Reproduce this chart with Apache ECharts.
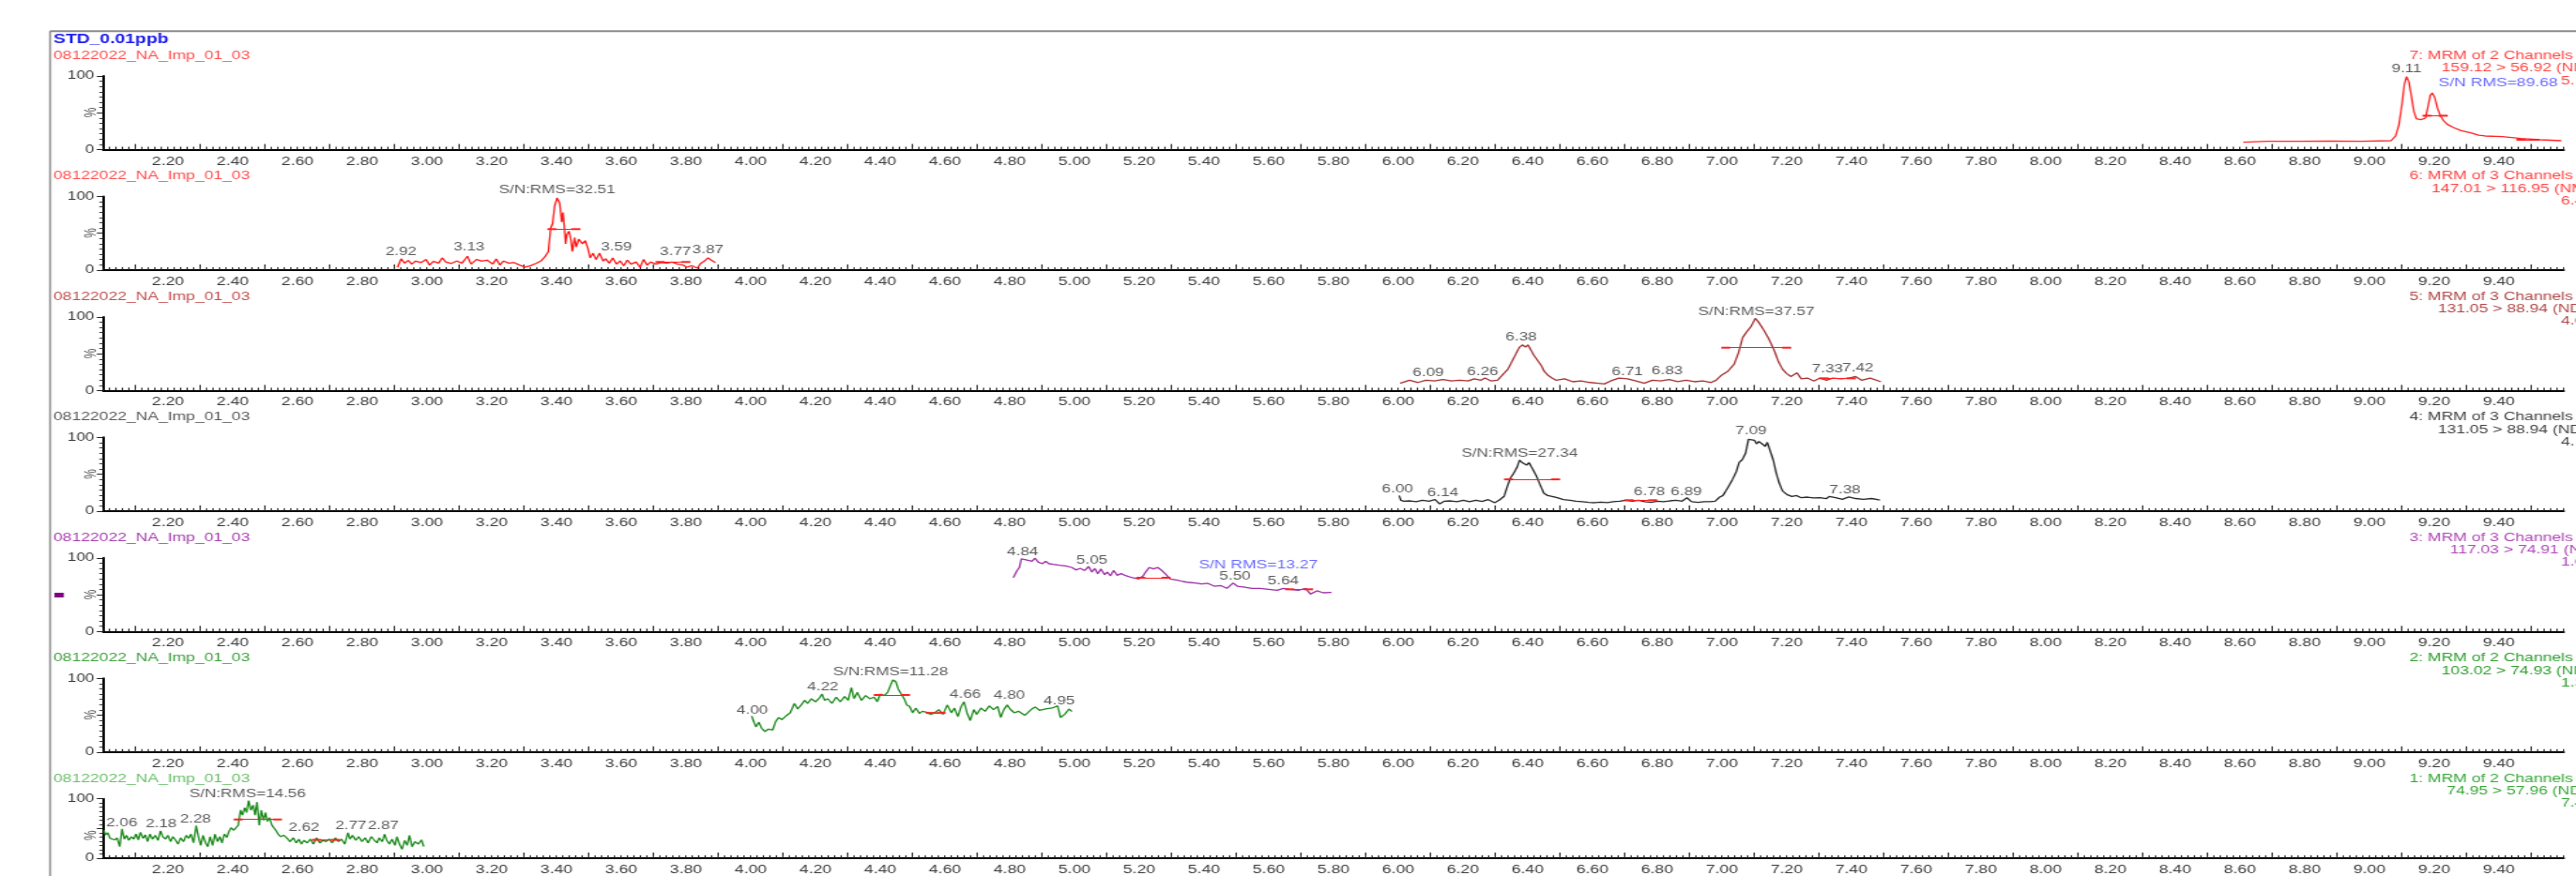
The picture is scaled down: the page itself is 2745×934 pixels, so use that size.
<!DOCTYPE html>
<html>
<head>
<meta charset="utf-8">
<script src="https://cdn.jsdelivr.net/npm/echarts@6/dist/echarts.min.js"></script>
<style>
    html, body { margin: 0; padding: 0; background: #fff; overflow: hidden; }
    #chart { position: absolute; left: 0; top: 0; height: 934px; transform-origin: 0 0; }
</style>
</head>
<body>
<div id="chart"></div>
<script>
    // ---- data: [retention time (min), intensity %] ----
    const ch7 = [[8.610,10],[8.685,11.3],[8.782,11.3],[8.878,11.7],[8.975,11.3],[9.067,12.1],[9.081,18.5],[9.091,33.3],[9.101,63.1],[9.108,88.5],[9.115,99.2],[9.122,91.9],[9.130,71.5],[9.137,52.4],[9.145,41.8],[9.159,40.6],[9.173,42.7],[9.181,58.8],[9.188,73.7],[9.194,77.1],[9.202,70.7],[9.210,56.7],[9.219,46.1],[9.228,39.7],[9.241,34.2],[9.260,29.9],[9.284,25.7],[9.313,22.7],[9.337,19.7],[9.345,21.4],[9.357,18.5],[9.410,17.6],[9.468,15.1],[9.526,13.4],[9.593,12.1]];
    const ch6 = [[2.909,3.8],[2.920,15.3],[2.931,9.3],[2.942,13.2],[2.953,8.1],[2.964,12.3],[2.981,10.2],[2.997,14.4],[3.008,6.8],[3.020,11.9],[3.036,9.3],[3.047,16.6],[3.058,11.0],[3.075,8.9],[3.092,12.3],[3.108,9.3],[3.125,18.7],[3.136,8.1],[3.153,14.4],[3.169,12.3],[3.186,13.6],[3.203,8.1],[3.214,15.3],[3.225,6.8],[3.236,12.3],[3.253,9.3],[3.269,10.2],[3.286,6.8],[3.303,3.8],[3.319,5.9],[3.336,8.9],[3.352,12.3],[3.364,17.8],[3.375,25.1],[3.382,56.9],[3.388,63.3],[3.394,86.6],[3.402,98.1],[3.410,90.9],[3.416,65.4],[3.420,78.1],[3.425,54.8],[3.428,35.7],[3.432,48.4],[3.439,52.7],[3.445,39.9],[3.449,25.1],[3.456,44.2],[3.461,31.4],[3.469,42.0],[3.480,35.7],[3.489,39.9],[3.497,29.3],[3.504,16.6],[3.513,22.9],[3.522,14.4],[3.533,22.9],[3.544,12.3],[3.552,15.3],[3.563,9.3],[3.574,16.6],[3.585,8.1],[3.597,12.3],[3.608,5.9],[3.619,13.6],[3.630,8.1],[3.646,11.0],[3.658,3.8],[3.669,14.4],[3.680,6.8],[3.691,11.0],[3.707,8.1],[3.724,10.2],[3.741,9.3],[3.757,11.0],[3.774,8.1],[3.791,6.8],[3.802,3.8],[3.818,5.9],[3.835,2.5],[3.846,9.3],[3.857,12.3],[3.868,16.6],[3.879,13.2],[3.891,10.2]];
    const ch5 = [[6.006,10],[6.035,14],[6.061,11],[6.086,14],[6.112,13],[6.138,15],[6.164,13],[6.190,14],[6.216,13],[6.235,16],[6.255,14],[6.268,17],[6.287,13],[6.307,14],[6.326,23],[6.339,29],[6.352,40],[6.365,51],[6.375,59],[6.384,62],[6.393,59],[6.401,62],[6.410,55],[6.419,48],[6.429,42],[6.442,34],[6.451,26],[6.462,21],[6.475,17],[6.488,14],[6.514,16],[6.539,12],[6.565,13],[6.591,11],[6.617,10],[6.637,9],[6.656,13],[6.682,17],[6.708,16],[6.734,13],[6.760,10],[6.785,14],[6.811,13],[6.837,15],[6.863,12],[6.889,14],[6.915,12],[6.941,13],[6.967,11],[6.982,14],[6.999,21],[7.018,26],[7.038,36],[7.051,51],[7.064,72],[7.077,80],[7.090,87],[7.103,98],[7.113,93],[7.122,87],[7.132,80],[7.145,70],[7.161,55],[7.174,40],[7.187,29],[7.200,23],[7.213,19],[7.232,24],[7.245,16],[7.264,17],[7.284,13],[7.303,17],[7.323,14],[7.342,17],[7.368,16],[7.394,17],[7.413,19],[7.432,14],[7.458,17],[7.491,12]];
    const ch4 = [[6.003,21],[6.008,14.7],[6.017,13.4],[6.037,13.8],[6.056,12.6],[6.075,14.7],[6.095,13.4],[6.114,15.5],[6.128,9.6],[6.143,13.4],[6.162,13.8],[6.182,12.6],[6.201,14.7],[6.220,12.6],[6.240,14.7],[6.259,13.0],[6.278,15.5],[6.298,11.3],[6.312,14.7],[6.327,19.8],[6.336,31.7],[6.346,44.4],[6.356,50.8],[6.367,59.3],[6.375,69.1],[6.383,65.8],[6.390,66.6],[6.397,62.3],[6.404,65.8],[6.412,63.6],[6.418,55.0],[6.428,46.5],[6.438,35.9],[6.450,24.0],[6.462,21.0],[6.476,19.8],[6.491,18.0],[6.510,15.5],[6.530,14.7],[6.549,13.4],[6.568,12.6],[6.588,11.7],[6.607,11.3],[6.626,12.1],[6.646,11.3],[6.665,12.6],[6.684,13.4],[6.704,14.7],[6.723,13.4],[6.742,14.7],[6.761,12.6],[6.781,11.7],[6.800,13.4],[6.819,12.6],[6.839,13.8],[6.858,14.7],[6.877,13.4],[6.892,18.0],[6.906,12.6],[6.926,11.7],[6.945,12.6],[6.964,12.6],[6.979,13.4],[6.993,18.9],[7.003,21.0],[7.018,31.7],[7.032,42.3],[7.044,52.9],[7.053,65.8],[7.063,69.9],[7.073,78.4],[7.082,97.5],[7.090,95.4],[7.100,96.2],[7.107,91.2],[7.114,94.4],[7.124,91.2],[7.134,87.7],[7.140,93.4],[7.148,82.9],[7.158,69.9],[7.167,52.9],[7.177,38.0],[7.187,27.4],[7.201,22.3],[7.216,19.8],[7.230,21.0],[7.245,18.0],[7.264,18.9],[7.283,17.7],[7.303,18.0],[7.322,16.8],[7.332,19.8],[7.351,18.0],[7.372,16],[7.392,19],[7.413,17],[7.437,16],[7.462,17],[7.488,15]];
    const ch3 = [[4.811,73],[4.823,82.8],[4.830,87],[4.836,98.5],[4.847,97.6],[4.856,96.8],[4.869,95.5],[4.878,99.7],[4.888,94.2],[4.901,92.1],[4.911,95.5],[4.921,92.1],[4.933,91.3],[4.953,90],[4.972,89.1],[4.992,87],[5.005,83.6],[5.018,85.7],[5.031,82.8],[5.044,88.3],[5.054,80.6],[5.063,85.7],[5.072,78.5],[5.082,84.9],[5.093,77.2],[5.102,80.6],[5.111,75.6],[5.121,82.8],[5.132,76.4],[5.144,78.5],[5.160,75.6],[5.179,73],[5.199,71.3],[5.212,75.6],[5.221,81.5],[5.231,87],[5.244,84.9],[5.257,87],[5.270,82.8],[5.283,77.2],[5.296,71.3],[5.315,70],[5.335,67.9],[5.354,66.6],[5.374,65.8],[5.393,64.5],[5.412,65.4],[5.432,61.5],[5.451,62.4],[5.471,58.6],[5.490,65.8],[5.503,61.5],[5.522,60.3],[5.548,58.6],[5.574,58.6],[5.600,57.3],[5.626,56],[5.645,58.6],[5.665,57.3],[5.691,56],[5.714,58.6],[5.729,50.9],[5.749,55.2],[5.768,52.6],[5.794,53]];
    const ch2 = [[4.003,49],[4.008,42.6],[4.016,34.1],[4.025,40.5],[4.034,32],[4.044,27.7],[4.055,31.1],[4.068,29.9],[4.077,41.3],[4.086,46.8],[4.096,43.9],[4.109,49],[4.122,53.2],[4.135,65.9],[4.145,58.3],[4.156,63.8],[4.167,70.2],[4.176,65.9],[4.187,72.3],[4.200,68.1],[4.213,73.6],[4.220,78.7],[4.228,70.2],[4.238,72.3],[4.251,65.9],[4.264,74.5],[4.277,68.1],[4.290,75.4],[4.301,70.2],[4.311,87.3],[4.319,72.3],[4.329,80.9],[4.342,70.2],[4.355,76.6],[4.368,72.3],[4.381,74.5],[4.391,68.1],[4.400,78.7],[4.413,76.6],[4.423,81],[4.433,91.8],[4.439,97.8],[4.448,95.7],[4.456,85.1],[4.465,78.7],[4.474,72.3],[4.482,63.8],[4.491,61.7],[4.500,53.2],[4.510,59.6],[4.521,52.4],[4.530,55.3],[4.543,54.1],[4.556,51.1],[4.568,53.2],[4.581,57.5],[4.594,51.1],[4.607,63.8],[4.620,53.2],[4.629,59.6],[4.640,48.1],[4.650,61.7],[4.659,68.1],[4.668,53.2],[4.678,42.6],[4.689,57.5],[4.698,51.1],[4.711,59.6],[4.724,55.3],[4.737,62.5],[4.750,57.5],[4.763,61.7],[4.772,46.8],[4.782,57.5],[4.792,63.8],[4.801,58.3],[4.814,53.2],[4.827,55.3],[4.847,49.8],[4.866,57.5],[4.879,61],[4.892,56.6],[4.911,58.3],[4.931,59.6],[4.948,62.5],[4.957,46.8],[4.970,51.1],[4.983,58.3],[4.992,54.9]];
    const ch1 = [[2.002,47.0],[2.007,39.3],[2.014,42.7],[2.021,33.4],[2.028,36.3],[2.036,30.8],[2.043,34.2],[2.051,19.4],[2.058,49.1],[2.065,32.1],[2.072,38.5],[2.079,30.0],[2.087,36.3],[2.094,32.1],[2.101,40.6],[2.108,30.8],[2.115,43.6],[2.123,33.4],[2.130,39.3],[2.137,27.9],[2.144,40.6],[2.152,32.1],[2.161,38.5],[2.169,30.0],[2.177,46.1],[2.184,36.3],[2.192,32.1],[2.200,38.5],[2.208,27.9],[2.215,36.3],[2.223,30.8],[2.231,23.6],[2.239,34.2],[2.248,27.9],[2.256,38.5],[2.264,33.4],[2.271,40.6],[2.279,25.7],[2.287,54.6],[2.294,36.3],[2.301,21.5],[2.308,38.5],[2.316,25.7],[2.323,19.4],[2.330,36.3],[2.338,21.5],[2.345,40.6],[2.353,27.9],[2.360,36.3],[2.367,25.7],[2.374,40.6],[2.382,35.0],[2.388,44.8],[2.395,51.2],[2.403,47.0],[2.411,49.1],[2.417,55.5],[2.424,80.9],[2.430,72.4],[2.437,85.2],[2.443,76.7],[2.449,97.1],[2.456,80.9],[2.463,89.4],[2.469,72.4],[2.475,94.5],[2.482,55.5],[2.488,80.9],[2.495,63.9],[2.501,76.7],[2.507,61.8],[2.514,68.2],[2.521,55.5],[2.527,57.6],[2.533,47.0],[2.540,40.6],[2.548,36.3],[2.558,38.5],[2.567,34.2],[2.577,27.9],[2.587,34.2],[2.596,25.7],[2.604,32.1],[2.612,23.6],[2.620,30.0],[2.630,25.7],[2.640,32.1],[2.649,23.6],[2.659,34.2],[2.669,25.7],[2.678,30.0],[2.688,27.9],[2.698,32.1],[2.707,25.7],[2.717,34.2],[2.727,27.9],[2.736,32.1],[2.746,23.6],[2.756,42.7],[2.762,32.1],[2.770,38.5],[2.780,30.0],[2.789,36.3],[2.799,27.9],[2.809,34.2],[2.818,25.7],[2.828,36.3],[2.838,30.0],[2.846,25.7],[2.852,34.2],[2.862,27.9],[2.869,40.6],[2.876,30.0],[2.884,23.6],[2.892,32.1],[2.901,21.5],[2.907,36.3],[2.915,23.6],[2.923,15.1],[2.931,30.0],[2.939,21.5],[2.946,38.5],[2.954,19.4],[2.963,27.9],[2.973,23.6],[2.983,30.8],[2.990,19.4]];

    // peak labels [rt, % position, text]
    const peaks7 = [[9.115,109.8,'9.11']];
    const blue7 = [[9.398,91,'S/N RMS=89.68']];
    const peaks6 = [[2.920,25.1,'2.92'],[3.130,31.4,'3.13'],[3.402,109.1,'S/N:RMS=32.51'],[3.585,31.4,'3.59'],[3.768,25.1,'3.77'],[3.868,27.2,'3.87']];
    const peaks5 = [[6.093,24.3,'6.09'],[6.261,25,'6.26'],[6.380,71.8,'6.38'],[6.708,25,'6.71'],[6.831,26,'6.83'],[7.106,107,'S/N:RMS=37.57'],[7.326,28.5,'7.33'],[7.420,30,'7.42']];
    const peaks4 = [[5.998,29.5,'6.00'],[6.138,24,'6.14'],[6.375,78.4,'S/N:RMS=27.34'],[6.776,25.3,'6.78'],[6.890,25.3,'6.89'],[7.090,108,'7.09'],[7.380,27.8,'7.38']];
    const peaks3 = [[4.840,107.4,'4.84'],[5.054,96.8,'5.05'],[5.496,74.3,'5.50'],[5.645,68.8,'5.64']];
    const blue3 = [[5.568,90.4,'S/N RMS=13.27']];
    const peaks2 = [[4.005,56.6,'4.00'],[4.223,88,'4.22'],[4.432,108.3,'S/N:RMS=11.28'],[4.663,77.8,'4.66'],[4.799,76.5,'4.80'],[4.953,69.3,'4.95']];
    const peaks1 = [[2.446,107.6,'S/N:RMS=14.56'],[2.057,58.9,'2.06'],[2.179,57.6,'2.18'],[2.285,66.1,'2.28'],[2.620,51.2,'2.62'],[2.765,54.6,'2.77'],[2.865,54.6,'2.87']];

    // integration / noise bars [rt start, rt end, %]
    const int7 = [[9.178,9.228,46],[9.468,9.511,13.4]];
    const int6 = [[3.386,3.460,55.6],[3.72,3.80,11]];
    const int5 = [[7.012,7.200,58.2],[7.316,7.400,16.6]];
    const int4 = [[6.341,6.486,43],[6.713,6.786,14.7]];
    const int3 = [[5.205,5.283,73],[5.665,5.723,57.3]];
    const int2 = [[4.394,4.478,77.4],[4.555,4.588,53]];
    const int1 = [[2.417,2.538,65.2],[2.659,2.717,30.8]];

    // axis tick labels
    const tickLabels = [2.2,2.4,2.6,2.8,3.0,3.2,3.4,3.6,3.8,4.0,4.2,4.4,4.6,4.8,5.0,5.2,5.4,5.6,5.8,6.0,6.2,6.4,6.6,6.8,7.0,7.2,7.4,7.6,7.8,8.0,8.2,8.4,8.6,8.8,9.0,9.2,9.4];
    const longTicks = [2.1,2.3,2.5,2.7,2.9,3.1,3.3,3.5,3.7,3.9,4.1,4.3,4.5,4.7,4.9,5.1,5.3,5.5,5.7,5.9,6.1,6.3,6.5,6.7,6.9,7.1,7.3,7.5,7.7,7.9,8.1,8.3,8.5,8.7,8.9,9.1,9.3,9.5];

    // channel header texts
    const chanTitles = ['7: MRM of 2 Channels ES+','6: MRM of 3 Channels ES+','5: MRM of 3 Channels ES+','4: MRM of 3 Channels ES+','3: MRM of 3 Channels ES+','2: MRM of 2 Channels ES+','1: MRM of 2 Channels ES+'];
    const transitions = ['159.12 > 56.92 (NDBA)','147.01 > 116.95 (NMBA)','131.05 > 88.94 (NDIPA)','131.05 > 88.94 (NDIPA)','117.03 > 74.91 (NEIPA)','103.02 > 74.93 (NDEA)','74.95 > 57.96 (NDMA)'];
    const intensities = ['5.17e3','6.46e2','4.06e2','4.17e2','1.02e3','1.31e3','7.42e2'];
    const sampleName = '08122022_NA_Imp_01_03';

    // ---- layout ----
    const SX = 1.38;              // the screenshot is stretched horizontally
    const W = 2745 / SX;
    const px = function (X) { return X / SX; };
    const PITCH = 128.45;
    const FONT = '"Liberation Sans", Arial, sans-serif';

    const el = document.getElementById('chart');
    el.style.width = W + 'px';
    el.style.transform = 'scaleX(' + SX + ')';

    const panels = [
        {trace: ch7, peaks: peaks7, blue: blue7, bars: int7, line: '#ff2626', head: '#ff4646', name: '#ff5050', l2x: 2601.7},
        {trace: ch6, peaks: peaks6, blue: [], bars: int6, line: '#ff1a1a', head: '#ff4646', name: '#ff5050', l2x: 2591},
        {trace: ch5, peaks: peaks5, blue: [], bars: int5, line: '#a83232', head: '#b04848', name: '#c45050', l2x: 2597.7},
        {trace: ch4, peaks: peaks4, blue: [], bars: int4, line: '#2a2a2a', head: '#444444', name: '#5a5a5a', l2x: 2597.7},
        {trace: ch3, peaks: peaks3, blue: blue3, bars: int3, line: '#a030a8', head: '#b048b8', name: '#a840b0', l2x: 2610.7},
        {trace: ch2, peaks: peaks2, blue: [], bars: int2, line: '#1e8c1e', head: '#30a030', name: '#40a040', l2x: 2601.7},
        {trace: ch1, peaks: peaks1, blue: [], bars: int1, line: '#1e8c1e', head: '#38a838', name: '#6cc06c', l2x: 2607.3}
    ];

    const grid = [], xAxis = [], yAxis = [], series = [], graphic = [];

    graphic.push({type: 'line', shape: {x1: px(53.3), y1: 33.3, x2: W, y2: 33.3}, style: {stroke: '#8c8c8c', lineWidth: 2}});
    graphic.push({type: 'line', shape: {x1: px(53.3), y1: 33.3, x2: px(53.3), y2: 934}, style: {stroke: '#8c8c8c', lineWidth: 1.5}});
    graphic.push({type: 'text', x: px(57), y: 41.7, style: {text: 'STD_0.01ppb', fill: '#2020f0', fontSize: 14, fontWeight: 'bold', fontFamily: FONT, verticalAlign: 'middle'}});
    graphic.push({type: 'rect', shape: {x: px(58), y: 632, width: px(10), height: 5}, style: {fill: '#800080'}});

    panels.forEach(function (p, k) {
        const top = 81 + PITCH * k;
        grid.push({left: px(110), right: W - px(2732), top: top, height: 78.5});
        // small ticks every 0.02 min + labels every 0.2 min
        xAxis.push({
            type: 'value', gridIndex: k, position: 'bottom', min: 2, max: 9.6, interval: 0.02,
            axisLine: {show: true, onZero: false, lineStyle: {color: '#000', width: 2}},
            axisTick: {show: true, inside: true, length: 3, lineStyle: {color: '#222'}},
            axisLabel: {show: true, customValues: tickLabels, formatter: function (v) { return v.toFixed(2); }, margin: 6, fontSize: 12.7, color: '#3a3a3a', fontFamily: FONT},
            splitLine: {show: false}
        });
        // longer ticks between the labels
        xAxis.push({
            type: 'value', gridIndex: k, position: 'bottom', min: 2, max: 9.6,
            axisLine: {show: false, onZero: false},
            axisTick: {show: true, inside: true, length: 6, customValues: longTicks, lineStyle: {color: '#222'}},
            axisLabel: {show: false},
            splitLine: {show: false}
        });
        yAxis.push({
            type: 'value', gridIndex: k, min: 0, max: 100, interval: 50,
            axisLine: {show: true, lineStyle: {color: '#000', width: 2}},
            axisTick: {show: true, length: 5, lineStyle: {color: '#222'}},
            minorTick: {show: true, splitNumber: 7, length: 3, lineStyle: {color: '#333'}},
            axisLabel: {formatter: function (v) { return v === 50 ? '' : String(v); }, margin: 7, fontSize: 12.4, color: '#3a3a3a', fontFamily: FONT},
            splitLine: {show: false}
        });

        series.push({
            type: 'line', xAxisIndex: 2 * k, yAxisIndex: k, data: p.trace,
            symbol: 'none', silent: true,
            lineStyle: {color: p.line, width: 1.3},
            markLine: {
                silent: true, symbol: ['rect', 'rect'], symbolSize: [2, 7],
                lineStyle: {color: '#ff2020', width: 1, type: 'solid'},
                itemStyle: {color: '#e01010'},
                label: {show: false},
                data: p.bars.map(function (b) { return [{coord: [b[0], b[2]]}, {coord: [b[1], b[2]]}]; })
            }
        });
        series.push({
            type: 'scatter', xAxisIndex: 2 * k, yAxisIndex: k, data: p.peaks,
            symbolSize: 0, clip: false, silent: true,
            label: {show: true, position: 'inside', formatter: function (d) { return d.data[2]; }, color: '#333', fontSize: 12.4, fontFamily: FONT}
        });
        if (p.blue.length) {
            series.push({
                type: 'scatter', xAxisIndex: 2 * k, yAxisIndex: k, data: p.blue,
                symbolSize: 0, clip: false, silent: true,
                label: {show: true, position: 'inside', formatter: function (d) { return d.data[2]; }, color: '#4646ff', fontSize: 12.7, fontFamily: FONT}
            });
        }

        // y-axis unit, sample name and channel header
        graphic.push({type: 'text', x: px(98), y: 120 + PITCH * k, rotation: Math.PI / 2, style: {text: '%', fill: '#555', fontSize: 12, fontFamily: FONT, align: 'center', verticalAlign: 'middle'}});
        graphic.push({type: 'text', x: px(57), y: 59.5 + PITCH * k, style: {text: sampleName, fill: p.name, fontSize: 12.7, fontFamily: FONT, verticalAlign: 'middle'}});
        graphic.push({type: 'text', x: px(2567.5), y: 59.5 + PITCH * k, style: {text: chanTitles[k], fill: p.head, fontSize: 12.7, fontFamily: FONT, verticalAlign: 'middle'}});
        graphic.push({type: 'text', x: px(p.l2x), y: 72.8 + PITCH * k, style: {text: transitions[k], fill: p.head, fontSize: 12.7, fontFamily: FONT, verticalAlign: 'middle'}});
        graphic.push({type: 'text', x: px(2729), y: 86 + PITCH * k, style: {text: intensities[k], fill: p.head, fontSize: 12.7, fontFamily: FONT, verticalAlign: 'middle'}});
    });

    const chart = echarts.init(el);
    chart.setOption({
        animation: false,
        backgroundColor: '#fff',
        grid: grid,
        xAxis: xAxis,
        yAxis: yAxis,
        series: series,
        graphic: graphic
    });
</script>
</body>
</html>
